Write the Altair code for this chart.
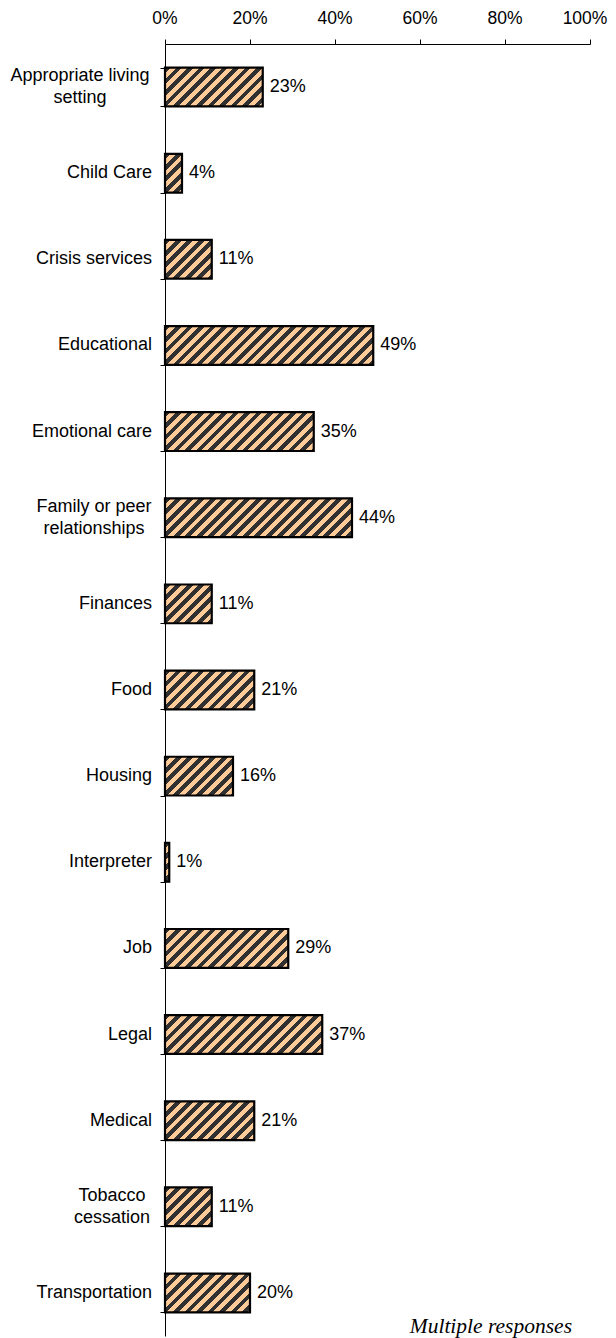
import altair as alt

# ---- data ----
categories = [
    "Appropriate living\nsetting",
    "Child Care",
    "Crisis services",
    "Educational",
    "Emotional care",
    "Family or peer\nrelationships",
    "Finances",
    "Food",
    "Housing",
    "Interpreter",
    "Job",
    "Legal",
    "Medical",
    "Tobacco\ncessation",
    "Transportation",
]
values = [23, 4, 11, 49, 35, 44, 11, 21, 16, 1, 29, 37, 21, 11, 20]
x_ticks = [0, 20, 40, 60, 80, 100]
note = ["Multiple responses"]

# ---- layout / style ----
PLOT_W = 425
PLOT_H = 1292
N = len(categories)
STEP = PLOT_H / N
PAD_INNER = 0.55
BAR_H = STEP * (1 - PAD_INNER)
LIGHT = "#FFCC99"
DARK = "#303030"
PERIOD = 11.5
DARK_FRAC = 0.5
FONT = "Liberation Sans"
FS = 18
LINE_H = 22

# offset (px, left of plot edge) of centre of wrapped category labels
WRAP_CENTER = {
    "Appropriate living\nsetting": 85,
    "Family or peer\nrelationships": 71,
    "Tobacco\ncessation": 53,
}
SINGLE_DX = 13
EDGE_NUDGE = 5  # keep the last tick label inside the page


def hatch(w, h):
    """Diagonal-stripe fill built as a hard-stop linear gradient."""
    L = w + h
    k = L / (w * w + h * h)
    stops = []
    pos = 0.0
    while pos < L:
        a = pos / L
        b = min((pos + DARK_FRAC * PERIOD) / L, 1.0)
        c = min((pos + PERIOD) / L, 1.0)
        stops += [
            {"offset": a, "color": DARK},
            {"offset": b, "color": DARK},
            {"offset": b, "color": LIGHT},
            {"offset": c, "color": LIGHT},
        ]
        pos += PERIOD
    return {"gradient": "linear", "x1": 0, "y1": 0, "x2": w * k, "y2": h * k, "stops": stops}


records = []
for c, v in zip(categories, values):
    wrap = "\n" in c
    records.append({
        "cat": c,
        "val": v,
        "label": f"{v}%",
        "grad": hatch(v / 100 * PLOT_W, BAR_H),
        "wrap": wrap,
        "ldx": -WRAP_CENTER.get(c, SINGLE_DX),
        "ldy": -LINE_H / 2 if wrap else 0,
    })
data = alt.Data(values=records)

tick_data = alt.Data(values=[
    {"t": t, "tl": f"{t}%", "tdx": -EDGE_NUDGE if t == max(x_ticks) else 0}
    for t in x_ticks
])

y_axis = alt.Axis(
    title=None,
    orient="left",
    tickBand="extent",
    tickSize=5,
    tickColor="black",
    domainColor="black",
    labels=False,
    grid=False,
)

x_axis = alt.Axis(
    title=None,
    orient="top",
    values=x_ticks,
    labels=False,
    tickSize=5,
    tickColor="black",
    domainColor="black",
    grid=False,
)

x_scale = alt.Scale(domain=[0, 100], nice=False)

y_enc = alt.Y(
    "cat:N",
    sort=categories,
    scale=alt.Scale(paddingInner=PAD_INNER, paddingOuter=PAD_INNER / 2),
    axis=y_axis,
)

bars = alt.Chart(data).mark_bar(stroke="black", strokeWidth=2.2).encode(
    x=alt.X("val:Q", stack=None, scale=x_scale, axis=x_axis),
    y=y_enc,
    fill=alt.Fill("grad:N", scale=None, legend=None),
)

texts = alt.Chart(data).mark_text(
    align="left", baseline="middle", dx=7, font=FONT, fontSize=FS, color="black"
).encode(
    x=alt.X("val:Q", stack=None),
    y=alt.Y("cat:N", sort=categories),
    text="label:N",
)

cat_labels = alt.Chart(data).mark_text(
    align=alt.ExprRef("datum.wrap ? 'center' : 'right'"),
    dx=alt.ExprRef("datum.ldx"),
    dy=alt.ExprRef("datum.ldy"),
    baseline="middle",
    lineBreak="\n",
    lineHeight=LINE_H,
    font=FONT,
    fontSize=FS,
    color="black",
).encode(
    x=alt.value(0),
    y=alt.Y("cat:N", sort=categories),
    text="cat:N",
)

x_labels = alt.Chart(tick_data).mark_text(
    align="center",
    baseline="alphabetic",
    dx=alt.ExprRef("datum.tdx"),
    font=FONT,
    fontSize=17.5,
    color="black",
).encode(
    x=alt.X("t:Q", scale=x_scale),
    y=alt.value(-20),
    text="tl:N",
)

note_layer = alt.Chart(alt.Data(values=[{"t": t} for t in note])).mark_text(
    align="right",
    baseline="alphabetic",
    font="Liberation Serif",
    fontStyle="italic",
    fontSize=21.5,
    color="black",
).encode(
    x=alt.value(407),
    y=alt.value(1289),
    text="t:N",
)

chart = (
    alt.layer(bars, texts, cat_labels, x_labels, note_layer)
    .properties(
        width=PLOT_W,
        height=PLOT_H,
        autosize=alt.AutoSizeParams(type="none"),
        padding={"left": 157, "top": 36, "right": 18, "bottom": 2},
        background="white",
    )
    .configure_view(strokeWidth=0)
)

chart.save("out.html", embed_options={"renderer": "svg", "actions": False})
